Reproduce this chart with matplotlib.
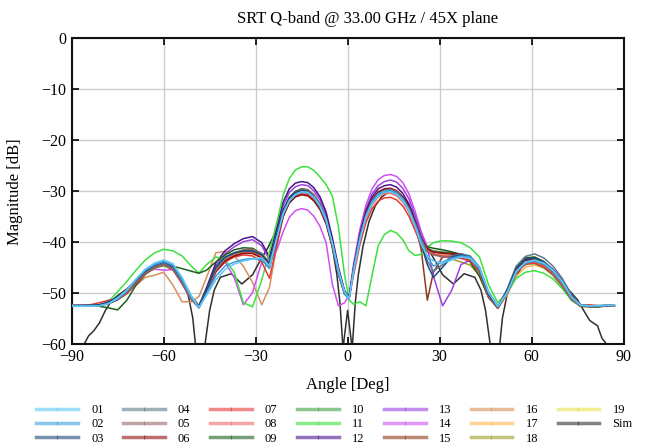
import matplotlib
matplotlib.use("Agg")
import matplotlib.pyplot as plt
from matplotlib.lines import Line2D

plt.rcParams['font.family'] = ['Liberation Serif', 'DejaVu Serif']

TITLE = "SRT Q-band @ 33.00 GHz / 45X plane"
XLABEL = "Angle [Deg]"
YLABEL = "Magnitude [dB]"
XTICKS = [-90, -60, -30, 0, 30, 60, 90]
YTICKS = [0, -10, -20, -30, -40, -50, -60]

ANGLES = [-89.8, -84, -81, -78, -75, -72, -69, -66, -63, -60, -57, -54, -51,
          -48.5, -46, -43, -40, -37, -34, -31, -28, -25.5,
          -23, -21, -19, -17, -15, -13, -11, -9, -7, -5, -3, -1,
          0.5, 2, 4, 6, 8, 10, 12, 14, 16, 18, 20, 22, 24, 26,
          28, 31, 34, 37, 40, 43, 46, 49,
          52, 55, 58, 61, 64, 67, 70, 73, 76, 79, 82, 85, 87]

S01 = [-52.7, -52.7, -52.6, -52.2, -51.0, -49.5, -47.3, -45.4, -44.2, -43.6, -44.3, -47.0, -50.6,
       -52.9, -50.5, -47.5, -45.5, -44.4, -43.8, -43.4, -43.2, -44.8,
       -39.0, -34.4, -31.9, -30.7, -30.2, -30.3, -31.2, -32.9, -35.6, -40.2, -45.6, -49.8,
       -51.2, -45.8, -39.8, -35.2, -32.5, -31.0, -30.3, -30.2, -30.7, -31.9, -33.9, -37.0, -40.5, -42.8,
       -43.8, -44.2, -43.6, -43.0, -43.3, -45.2, -50.0, -52.8,
       -50.0, -45.8, -44.0, -43.6, -44.2, -45.6, -47.8, -50.8, -52.5, -52.6, -52.6, -52.5, -52.5]
S02 = [-52.5, -52.6, -52.6, -52.1, -51.3, -49.6, -47.5, -45.6, -44.5, -43.9, -44.6, -47.5, -51.0,
       -53.0, -50.2, -46.8, -44.8, -44.0, -43.5, -43.3, -43.6, -45.3,
       -39.2, -34.6, -32.0, -30.8, -30.3, -30.4, -31.4, -33.2, -36.0, -40.6, -46.2, -50.2,
       -51.3, -45.2, -39.2, -34.8, -32.0, -30.6, -30.0, -29.9, -30.4, -31.6, -33.6, -36.6, -39.7, -43.0,
       -44.8, -44.0, -43.2, -42.8, -43.0, -45.0, -49.8, -52.6,
       -50.2, -46.0, -44.2, -43.8, -44.4, -45.8, -48.0, -50.9, -52.5, -52.6, -52.5, -52.5, -52.6]
S03 = [-52.6, -52.5, -52.4, -51.8, -50.9, -49.5, -47.6, -45.8, -44.6, -44.0, -44.8, -47.6, -50.8,
       -52.6, -49.5, -45.0, -43.0, -42.2, -41.8, -41.8, -42.6, -44.2,
       -38.2, -33.8, -31.4, -30.3, -29.9, -30.1, -31.1, -32.8, -35.6, -40.3, -45.8, -49.8,
       -50.8, -45.3, -39.3, -34.8, -32.1, -30.6, -30.0, -29.9, -30.4, -31.6, -33.6, -36.6, -40.5, -44.5,
       -47.0, -45.0, -43.0, -42.6, -43.0, -45.4, -50.4, -52.9,
       -49.6, -45.2, -43.4, -43.2, -44.0, -45.6, -47.8, -50.6, -52.5, -52.6, -52.6, -52.5, -52.5]
S04 = [-52.5, -52.5, -52.4, -51.9, -51.0, -49.6, -47.6, -45.9, -44.7, -44.2, -45.0, -47.7, -50.9,
       -52.7, -49.6, -45.2, -43.2, -42.3, -41.8, -41.9, -42.6, -44.3,
       -38.4, -34.0, -31.5, -30.4, -30.0, -30.2, -31.2, -32.9, -35.7, -40.4, -45.9, -49.9,
       -50.9, -45.4, -39.4, -34.9, -32.2, -30.7, -30.1, -30.0, -30.5, -31.7, -33.7, -36.7, -40.2, -43.8,
       -45.8, -44.5, -42.8, -42.4, -42.8, -45.0, -50.2, -52.8,
       -49.4, -44.8, -42.9, -42.4, -43.2, -44.8, -47.2, -50.4, -52.4, -52.6, -52.6, -52.5, -52.5]
S05 = [-52.6, -52.6, -52.5, -52.0, -51.3, -50.0, -48.0, -46.2, -45.0, -44.5, -45.4, -48.1, -51.2,
       -52.9, -49.9, -45.6, -43.4, -42.2, -41.6, -41.5, -42.3, -44.2,
       -38.6, -34.1, -31.5, -30.2, -29.7, -29.8, -30.8, -32.6, -35.5, -40.3, -45.9, -50.0,
       -51.0, -45.6, -39.6, -35.0, -32.2, -30.6, -29.9, -29.7, -30.2, -31.4, -33.4, -36.4, -39.6, -41.8,
       -42.6, -43.0, -43.0, -42.8, -43.4, -45.8, -50.6, -53.0,
       -50.0, -45.8, -44.0, -43.8, -44.6, -46.2, -48.4, -51.2, -52.6, -52.7, -52.7, -52.6, -52.6]
S06 = [-52.6, -52.6, -52.6, -52.2, -51.4, -50.0, -48.0, -46.1, -44.9, -44.4, -45.3, -48.0, -51.1,
       -52.9, -50.0, -45.8, -43.8, -42.8, -42.3, -42.3, -43.2, -45.0,
       -39.5, -35.0, -32.4, -31.2, -30.8, -31.0, -32.0, -33.7, -36.5, -41.0, -46.4, -50.3,
       -51.2, -45.0, -39.0, -34.4, -31.7, -30.2, -29.6, -29.5, -30.0, -31.2, -33.2, -36.2, -39.4, -41.4,
       -42.0, -42.2, -42.3, -42.4, -43.0, -45.4, -50.4, -52.9,
       -49.9, -45.6, -43.8, -43.5, -44.3, -45.8, -48.0, -50.9, -52.6, -52.7, -52.7, -52.6, -52.6]
S07 = [-52.4, -52.4, -52.0, -51.5, -51.3, -50.2, -48.2, -46.3, -45.0, -44.5, -45.5, -48.3, -51.4,
       -53.0, -50.2, -46.0, -44.0, -43.0, -42.6, -42.8, -44.0, -47.2,
       -40.5, -35.0, -32.2, -31.0, -30.6, -30.8, -31.8, -33.5, -36.3, -40.9, -46.3, -50.2,
       -51.0, -46.4, -40.6, -36.2, -33.5, -32.0, -31.4, -31.3, -31.8, -33.0, -35.0, -37.8, -40.6, -42.0,
       -42.5, -42.9, -43.0, -43.2, -43.8, -46.0, -50.8, -53.1,
       -50.2, -46.2, -44.4, -44.2, -45.0, -46.4, -48.6, -51.2, -52.5, -52.4, -52.6, -52.5, -52.6]
S08 = [-52.6, -52.6, -52.4, -51.9, -51.1, -49.7, -47.7, -45.9, -44.7, -44.2, -45.1, -47.8, -51.0,
       -52.8, -49.9, -45.7, -43.7, -42.7, -42.2, -42.2, -43.0, -44.8,
       -39.0, -34.4, -31.8, -30.6, -30.2, -30.4, -31.4, -33.1, -35.9, -40.6, -46.1, -50.1,
       -51.1, -45.8, -39.9, -35.5, -32.8, -31.2, -30.6, -30.5, -31.0, -32.2, -34.2, -37.2, -40.2, -41.9,
       -42.4, -42.8, -42.9, -42.9, -43.5, -45.8, -50.7, -53.0,
       -50.0, -45.7, -44.0, -43.8, -44.7, -46.2, -48.4, -51.1, -52.6, -52.7, -52.7, -52.6, -52.6]
S09 = [-52.6, -52.6, -52.7, -53.0, -53.4, -51.5, -48.5, -46.4, -45.0, -44.6, -44.8, -45.3, -45.8,
       -46.2, -45.6, -44.0, -42.6, -41.6, -41.2, -41.3, -42.4, -44.3,
       -38.4, -33.9, -31.3, -30.1, -29.6, -29.8, -30.8, -32.6, -35.5, -40.3, -45.8, -49.9,
       -51.0, -45.4, -39.4, -34.9, -32.2, -30.7, -30.1, -30.0, -30.5, -31.7, -33.7, -36.7, -40.0, -41.0,
       -41.3, -41.6, -42.0, -42.6, -44.0, -46.8, -51.0, -53.0,
       -49.6, -45.2, -43.2, -43.0, -43.9, -45.6, -48.0, -51.0, -52.7, -52.8, -52.8, -52.6, -52.6]
S10 = [-52.6, -52.6, -52.5, -52.1, -51.4, -50.2, -48.3, -46.4, -45.2, -44.7, -45.5, -48.0, -51.0,
       -52.6, -49.5, -45.2, -43.2, -42.2, -41.7, -41.6, -42.4, -44.3,
       -38.5, -34.0, -31.4, -30.3, -29.9, -30.1, -31.1, -32.9, -35.8, -40.5, -46.0, -50.0,
       -51.0, -45.6, -39.6, -35.1, -32.4, -30.9, -30.3, -30.2, -30.7, -31.9, -33.9, -36.9, -39.9, -41.4,
       -41.8, -42.0, -42.2, -42.4, -43.3, -45.9, -50.8, -53.1,
       -50.0, -45.9, -44.4, -44.3, -45.1, -46.6, -48.8, -51.5, -52.7, -52.7, -52.7, -52.6, -52.6]
S11 = [-52.6, -52.6, -52.5, -51.8, -49.8, -47.8, -45.6, -43.6, -42.2, -41.5, -41.8, -42.8, -44.8,
       -46.2, -44.5, -43.0, -43.5, -46.0, -52.0, -52.8, -47.5, -42.0,
       -36.0, -30.8, -27.6, -25.9, -25.3, -25.3, -26.0, -27.3, -28.8, -31.0, -37.0, -46.5,
       -51.5, -52.3, -51.8, -52.6, -46.5, -40.8, -38.6, -37.8, -38.3, -39.6, -41.8, -42.7, -42.5, -41.1,
       -40.2, -39.8, -39.9, -40.2, -41.2, -43.0, -48.5, -52.0,
       -50.0, -47.2, -46.0, -45.7, -46.2, -47.3, -49.2, -51.4, -52.6, -52.7, -52.7, -52.6, -52.6]
S12 = [-52.6, -52.6, -52.5, -52.0, -51.2, -49.8, -47.8, -46.0, -44.8, -44.3, -45.0, -47.6, -50.8,
       -52.6, -49.0, -44.2, -41.8, -40.4, -39.4, -39.0, -40.2, -43.0,
       -37.0, -32.2, -29.6, -28.5, -28.2, -28.4, -29.4, -31.2, -34.2, -39.2, -45.0, -49.6,
       -51.0, -45.0, -38.6, -34.0, -31.2, -29.6, -29.0, -28.8, -29.3, -30.5, -32.6, -35.8, -39.4, -41.4,
       -42.0, -42.3, -42.4, -42.6, -43.3, -45.8, -50.6, -53.0,
       -49.6, -45.3, -43.5, -43.3, -44.1, -45.6, -47.8, -50.8, -52.6, -52.7, -52.7, -52.6, -52.6]
S13 = [-52.6, -52.6, -52.5, -52.0, -51.1, -49.6, -47.6, -45.8, -44.6, -44.2, -45.0, -47.7, -50.9,
       -52.7, -49.4, -44.8, -42.4, -41.0, -40.0, -39.6, -40.8, -43.6,
       -37.6, -32.9, -30.3, -29.2, -28.8, -29.0, -30.0, -31.8, -34.7, -39.6, -45.4, -49.8,
       -51.0, -45.0, -38.4, -33.6, -30.6, -29.0, -28.2, -27.9, -28.3, -29.5, -31.6, -34.8, -38.6, -41.2,
       -46.8, -52.6, -49.5, -44.5, -43.6, -45.6, -50.4, -53.0,
       -49.8, -45.5, -43.6, -43.3, -44.0, -45.4, -47.4, -50.4, -52.5, -52.7, -52.7, -52.6, -52.6]
S14 = [-52.6, -52.6, -52.5, -52.1, -51.3, -49.9, -47.9, -46.1, -45.4, -45.6, -45.5, -47.8, -51.0,
       -52.8, -49.6, -45.3, -44.0, -47.0, -52.4, -50.0, -44.0, -44.2,
       -41.5, -38.0, -35.2, -33.9, -33.5, -33.8, -35.0, -37.0, -40.2, -48.3, -52.6, -52.0,
       -50.5, -44.2, -37.6, -32.8, -29.6, -27.8, -27.0, -26.8, -27.2, -28.4, -30.6, -34.0, -38.0, -41.0,
       -42.4, -43.0, -43.2, -43.3, -43.8, -46.0, -50.6, -53.0,
       -49.9, -45.5, -43.7, -43.4, -44.1, -45.6, -47.9, -50.9, -52.6, -52.7, -52.7, -52.6, -52.6]
S15 = [-52.6, -52.6, -52.5, -52.0, -51.2, -49.8, -47.9, -46.1, -44.9, -44.4, -45.2, -47.9, -51.0,
       -52.7, -49.7, -45.3, -43.2, -42.3, -41.9, -41.9, -42.7, -44.4,
       -38.6, -34.1, -31.6, -30.5, -30.1, -30.3, -31.3, -33.0, -35.9, -40.6, -46.1, -50.0,
       -51.0, -45.4, -39.3, -34.8, -32.0, -30.4, -29.8, -29.7, -30.2, -31.5, -33.6, -36.8, -41.5, -51.5,
       -46.0, -43.0, -42.8, -42.9, -43.6, -46.0, -50.8, -53.0,
       -50.0, -45.7, -44.0, -43.8, -44.6, -46.1, -48.3, -51.1, -52.6, -52.7, -52.7, -52.6, -52.6]
S16 = [-52.6, -52.6, -52.5, -52.0, -51.4, -49.6, -48.6, -47.0, -46.6, -46.0, -48.5, -51.8, -51.8,
       -50.8, -47.0, -42.2, -41.9, -42.8, -44.8, -48.0, -52.4, -49.0,
       -40.5, -34.8, -31.9, -30.7, -30.3, -30.5, -31.5, -33.2, -36.0, -40.7, -46.2, -50.1,
       -51.0, -45.3, -39.3, -34.8, -32.1, -30.6, -30.0, -29.9, -30.4, -31.6, -33.6, -36.7, -39.8, -41.7,
       -42.4, -42.8, -43.0, -43.0, -43.6, -45.9, -50.7, -53.0,
       -50.1, -46.0, -44.3, -44.0, -44.8, -46.3, -48.5, -51.2, -52.6, -52.7, -52.7, -52.6, -52.6]
S17 = [-52.6, -52.6, -52.5, -52.0, -51.3, -49.9, -47.9, -46.0, -44.7, -44.1, -44.9, -47.6, -50.8,
       -52.6, -49.6, -45.4, -43.5, -42.6, -42.1, -42.0, -42.7, -44.4,
       -38.7, -34.2, -31.6, -30.5, -30.1, -30.3, -31.3, -33.0, -35.8, -40.5, -46.0, -50.0,
       -51.0, -45.6, -39.6, -35.1, -32.4, -30.9, -30.3, -30.2, -30.7, -31.9, -33.9, -36.9, -39.9, -41.8,
       -42.3, -42.5, -42.6, -42.7, -43.4, -45.8, -50.6, -53.0,
       -50.5, -46.8, -45.0, -44.6, -45.2, -46.6, -48.8, -51.4, -52.6, -52.7, -52.7, -52.6, -52.6]
S18 = [-52.6, -52.6, -52.5, -52.0, -51.1, -49.7, -47.7, -45.9, -44.7, -44.2, -45.0, -47.7, -50.9,
       -52.7, -49.7, -45.4, -43.4, -42.4, -41.9, -41.9, -42.7, -44.5,
       -38.5, -34.0, -31.5, -30.4, -30.0, -30.2, -31.2, -32.9, -35.7, -40.4, -45.9, -49.9,
       -50.9, -45.5, -39.5, -35.0, -32.3, -30.8, -30.2, -30.1, -30.6, -31.8, -33.8, -36.8, -39.8, -41.6,
       -42.2, -42.7, -43.4, -44.0, -44.6, -46.6, -50.8, -53.0,
       -49.9, -45.6, -43.9, -43.7, -44.6, -46.1, -48.3, -51.0, -52.6, -52.7, -52.7, -52.6, -52.6]
S19 = [-52.6, -52.6, -52.5, -52.0, -51.2, -49.7, -47.7, -45.8, -44.5, -44.0, -44.8, -47.5, -50.7,
       -52.6, -49.5, -45.2, -43.3, -42.5, -42.2, -42.4, -43.2, -44.8,
       -38.8, -34.3, -31.7, -30.6, -30.2, -30.4, -31.4, -33.1, -35.9, -40.6, -46.1, -50.0,
       -51.0, -45.6, -39.6, -35.1, -32.4, -30.9, -30.3, -30.2, -30.7, -31.9, -33.9, -36.9, -39.9, -41.6,
       -42.1, -42.3, -42.6, -42.9, -43.6, -46.0, -50.7, -53.0,
       -50.0, -45.9, -44.2, -44.0, -44.8, -46.3, -48.5, -51.2, -52.6, -52.7, -52.7, -52.6, -52.6]

SIM_ANGLES = [-89.8, -86, -84.5, -82.8, -81, -79, -77, -75, -72, -69, -66, -63, -60, -57, -54, -52,
              -50.5, -49.5, -48, -46.7, -45, -43.5, -41.5, -38, -34.5, -31, -28.5, -26, -23, -21,
              -19, -17, -15, -13, -11, -9, -7, -5, -3.5, -2.5, -1.5, 0, 1.5, 2.5, 3.5, 5, 7, 9,
              11, 13, 15, 17, 19, 21, 23, 26, 28.5, 31, 34.5, 38, 41.5, 43.5, 45, 46.7, 48,
              49.5, 50.5, 52, 54, 57, 60, 63, 66, 69, 72, 75, 77, 79, 81.5, 83, 85, 87]
SIM = [-61, -60.2, -58.5, -57.5, -56.0, -53.5, -51.6, -50.6, -49.3, -47.5, -45.8, -44.7, -44.2,
       -45.0, -47.8, -50.5, -55.0, -61, -64, -61, -53.5, -49.5, -47.0, -46.3, -48.3, -46.5,
       -43.7, -41.2, -37.5, -34.0, -31.6, -30.5, -30.2, -30.4, -31.3, -33.0, -36.0, -41.0,
       -46.5, -52.0, -61, -53.5, -61, -52.0, -46.5, -41.0, -36.0, -33.0, -31.3, -30.4, -30.2,
       -30.6, -31.8, -34.0, -37.6, -41.2, -43.7, -46.5, -48.3, -46.3, -47.0, -49.5, -53.5,
       -61, -64, -61, -55.0, -50.5, -47.8, -44.8, -44.0, -44.5, -45.6, -47.4, -49.4, -51.4,
       -53.5, -55.5, -56.5, -59.0, -60.5, -61]

LABELS = ["01", "02", "03", "04", "05", "06", "07", "08", "09", "10",
          "11", "12", "13", "14", "15", "16", "17", "18", "19", "Sim"]
COLORS = ["#5ec8f8", "#3c9fde", "#1e4a78", "#5b7c8a", "#9a6868", "#8e1010",
          "#e53935", "#f26b6b", "#1b5e20", "#43a047", "#3ee03e", "#4a148c",
          "#a040e0", "#d050f0", "#8d3b1c", "#d4915a", "#ffb74d", "#9e9d24",
          "#e6e14a", "#303030"]

SERIES = [S01, S02, S03, S04, S05, S06, S07, S08, S09, S10,
          S11, S12, S13, S14, S15, S16, S17, S18, S19]

fig = plt.figure(figsize=(6.48, 4.48), dpi=100)
ax = fig.add_axes([71.7 / 648, 1 - 343.5 / 448, (623.5 - 71.7) / 648, (343.5 - 38) / 448])

ax.plot(SIM_ANGLES, SIM, color=COLORS[-1], lw=1.1, zorder=2)
for i in range(len(SERIES) - 1, -1, -1):
    ax.plot(ANGLES, SERIES[i], color=COLORS[i], lw=1.1, zorder=3 + (len(SERIES) - i) * 0.01)

ax.set_xlim(-90, 90)
ax.set_ylim(-60, 0)
ax.set_xticks(XTICKS)
ax.set_yticks(YTICKS)
ax.set_xticklabels(["\u2212" + str(abs(t)) if t < 0 else str(t) for t in XTICKS])
ax.set_yticklabels(["\u2212" + str(abs(t)) if t < 0 else str(t) for t in YTICKS])
ax.grid(True, color="#cccccc", lw=1.0)
ax.set_axisbelow(True)
ax.tick_params(direction="in", length=5, width=1.2, top=True, right=True,
               labelsize=11.5, colors="black", pad=4)
for sp in ax.spines.values():
    sp.set_linewidth(1.5)
    sp.set_color("#111111")

fig.text(367.5 / 648, 1 - 19 / 448, TITLE, ha="center", va="center", fontsize=12)
fig.text(348 / 648, 1 - 385 / 448, XLABEL, ha="center", va="center", fontsize=12)
fig.text(15 / 648, 1 - 192 / 448, YLABEL, ha="center", va="center", fontsize=12, rotation=90)

handles = [Line2D([], [], color=c, lw=2.5, alpha=0.6, marker="|", markersize=3,
                  markeredgecolor=c, markeredgewidth=0.8) for c in COLORS]
fig.legend(handles, LABELS, ncol=7, loc="upper left", bbox_to_anchor=(36 / 648, 1 - 404 / 448),
           frameon=False, fontsize=9, handlelength=3.35, handletextpad=1.05,
           columnspacing=1.55, labelspacing=0.19, borderpad=0, borderaxespad=0, numpoints=1)

fig.savefig("out.png", dpi=100)
